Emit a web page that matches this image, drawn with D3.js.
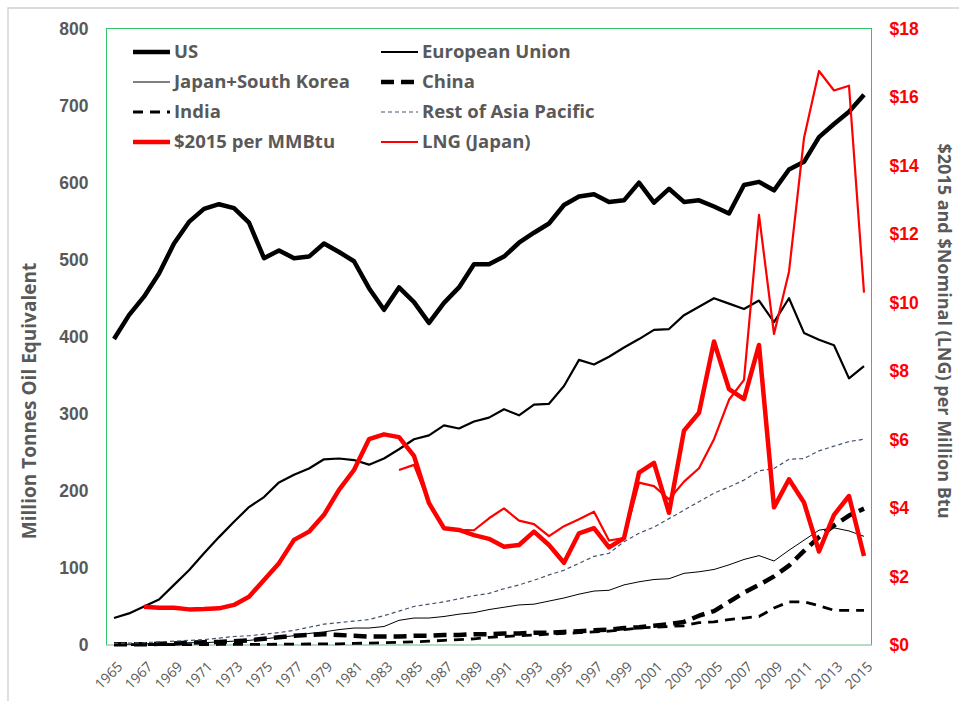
<!DOCTYPE html>
<html>
<head>
<meta charset="utf-8">
<script src="https://cdn.jsdelivr.net/npm/d3@7"></script>
<style>
  body { margin: 0; background: #fff; }
  svg { font-family: "Open Sans", "Noto Sans", sans-serif; }
</style>
</head>
<body>
<script>
// years on the x axis
var years = [1965,1966,1967,1968,1969,1970,1971,1972,1973,1974,
  1975,1976,1977,1978,1979,1980,1981,1982,1983,1984,
  1985,1986,1987,1988,1989,1990,1991,1992,1993,1994,
  1995,1996,1997,1998,1999,2000,2001,2002,2003,2004,
  2005,2006,2007,2008,2009,2010,2011,2012,2013,2014,2015];

// million tonnes oil equivalent (left axis)
var us = [397,428,452,482,521,549,566,572,567,548,
  502,512,502,504,521,510,498,463,435,464,
  445,418,444,464,494,494,504,522,535,547,
  571,582,585,575,577,600,574,592,575,577,
  569,560,597,601,590,617,627,659,676,692,714];
var eu = [35,41,50,59,78,97,119,140,160,179,
  192,211,221,229,241,242,240,234,242,254,
  267,272,285,281,290,295,306,298,312,313,
  336,370,364,374,386,397,409,410,428,439,
  450,443,436,447,419,450,405,396,389,346,362];
var japanKorea = [1,1,1.5,2,2,3,3,4,5,6,
  8,10,12,15,17,20,22,22,24,32,
  35,35,37,40,42,46,49,52,53,57,
  61,66,70,71,78,82,85,86,93,95,
  98,104,111,116,109,123,136,149,152,148,141];
var china = [1,1,1,1.5,2,3,3.5,4,5,6,
  8,10,12,13,14,13,12,11,11,11,
  12,12,13,13,14,14,15,15,16,16,
  17,18,19,20,22,23,25,27,30,38,
  44,56,68,78,89,103,122,140,155,168,177];
var india = [0.5,0.5,0.5,0.5,0.5,0.6,0.6,0.7,0.7,0.8,
  0.9,1,1.1,1.3,1.4,1.5,2,2.5,3,3.5,
  4,5,6,7,8,10,11,12,13,14,
  15,16,17,18,20,22,23,24,25,29,
  30,33,35,37,48,56,56,51,45,45,45];
var restAsia = [2,2.5,3,4,5,6,7,9,11,12,
  14,16,19,23,27,29,31,33,38,44,
  50,53,56,60,64,67,73,78,84,91,
  97,106,115,119,134,145,153,164,175,186,
  197,205,214,226,229,241,242,252,258,264,267];

// dollars per MMBtu (right axis)
var price2015 = [null,null,1.12,1.09,1.09,1.04,1.05,1.07,1.17,1.41,
  1.90,2.39,3.07,3.31,3.80,4.53,5.11,6.01,6.15,6.07,
  5.52,4.14,3.41,3.36,3.21,3.10,2.87,2.92,3.31,2.92,
  2.40,3.26,3.41,2.85,3.12,5.03,5.32,3.86,6.26,6.78,
  8.86,7.47,7.18,8.76,4.02,4.84,4.16,2.73,3.80,4.35,2.60];
var lngJapan = [null,null,null,null,null,null,null,null,null,null,
  null,null,null,null,null,null,null,null,null,5.11,
  5.26,4.14,3.41,3.36,3.35,3.70,3.99,3.63,3.53,3.18,
  3.47,3.67,3.89,3.05,3.12,4.74,4.64,4.25,4.77,5.16,
  6.01,7.16,7.74,12.56,9.08,10.90,14.80,16.76,16.19,16.33,10.29];

var leftTicks = [0,100,200,300,400,500,600,700,800];
var rightTicks = [0,2,4,6,8,10,12,14,16,18];

var w = 959, h = 701;
var plot = {left: 106.5, right: 871.5, top: 28.5, bottom: 645};

var series = [
  {name: "US", values: us, axis: "left", color: "#000", width: 4.5, dash: null},
  {name: "European Union", values: eu, axis: "left", color: "#000", width: 2.2, dash: null},
  {name: "Japan+South Korea", values: japanKorea, axis: "left", color: "#000", width: 1, dash: null},
  {name: "China", values: china, axis: "left", color: "#000", width: 4.5, dash: "13,7"},
  {name: "India", values: india, axis: "left", color: "#000", width: 2.8, dash: "10,7"},
  {name: "Rest of Asia Pacific", values: restAsia, axis: "left", color: "#44546a", width: 1.2, dash: "4,3"},
  {name: "$2015 per MMBtu", values: price2015, axis: "right", color: "#ff0000", width: 4.5, dash: null},
  {name: "LNG (Japan)", values: lngJapan, axis: "right", color: "#ff0000", width: 2.2, dash: null}
];

var svg = d3.select("body").append("svg")
  .attr("width", w)
  .attr("height", h);

// chart border, only top and left show in the crop
svg.append("path")
  .attr("d", "M8," + h + "V8H" + w)
  .attr("fill", "none")
  .attr("stroke", "#cfcfcf")
  .attr("stroke-width", 1.3);

var x = d3.scalePoint()
  .domain(years)
  .range([plot.left, plot.right])
  .padding(0.5);

var yLeft = d3.scaleLinear().domain([0, 800]).range([plot.bottom, plot.top]);
var yRight = d3.scaleLinear().domain([0, 18]).range([plot.bottom, plot.top]);

// plot frame
svg.append("rect")
  .attr("x", plot.left).attr("y", plot.top)
  .attr("width", plot.right - plot.left).attr("height", plot.bottom - plot.top)
  .attr("fill", "none")
  .attr("stroke", "#2fc466")
  .attr("stroke-width", 1);
svg.append("line")
  .attr("x1", plot.left).attr("x2", plot.right)
  .attr("y1", plot.bottom).attr("y2", plot.bottom)
  .attr("stroke", "#bcdcc8")
  .attr("stroke-width", 1.5);

// left axis
var leftAxis = svg.append("g")
  .attr("transform", "translate(" + (plot.left - 18) + ",0)")
  .call(d3.axisLeft(yLeft).tickValues(leftTicks).tickSize(0).tickPadding(0));
leftAxis.select(".domain").remove();
leftAxis.selectAll("text")
  .attr("fill", "#595959")
  .style("font-size", "17.5px")
  .style("font-weight", "700");

// right axis
var rightAxis = svg.append("g")
  .attr("transform", "translate(" + (plot.right + 18) + ",0)")
  .call(d3.axisRight(yRight).tickValues(rightTicks).tickSize(0).tickPadding(0)
    .tickFormat(function(d) { return "$" + d; }));
rightAxis.select(".domain").remove();
rightAxis.selectAll("text")
  .attr("fill", "#ff0000")
  .style("font-size", "17.5px")
  .style("font-weight", "700");

// x labels, every second year
svg.append("g")
  .selectAll("text")
  .data(years.filter(function(d, i) { return i % 2 === 0; }))
  .enter()
  .append("text")
  .attr("transform", function(d) { return "translate(" + (x(d) + 6) + "," + (plot.bottom + 19) + ") rotate(-45)"; })
  .attr("text-anchor", "end")
  .attr("dy", "0.35em")
  .attr("fill", "#595959")
  .style("font-size", "14px")
  .text(function(d) { return d; });

// axis titles
svg.append("text")
  .attr("transform", "translate(36,401) rotate(-90)")
  .attr("text-anchor", "middle")
  .attr("fill", "#595959")
  .style("font-size", "19px")
  .style("font-weight", "700")
  .text("Million Tonnes Oil Equivalent");

svg.append("text")
  .attr("transform", "translate(938,331) rotate(90)")
  .attr("text-anchor", "middle")
  .attr("fill", "#595959")
  .style("font-size", "18px")
  .style("font-weight", "700")
  .text("$2015 and $Nominal (LNG) per Million Btu");

// lines
series.forEach(function(s) {
  var y = s.axis === "left" ? yLeft : yRight;
  var line = d3.line()
    .defined(function(d) { return d !== null; })
    .x(function(d, i) { return x(years[i]); })
    .y(function(d) { return y(d); });
  svg.append("path")
    .datum(s.values)
    .attr("fill", "none")
    .attr("stroke", s.color)
    .attr("stroke-width", s.width)
    .attr("stroke-dasharray", s.dash)
    .attr("stroke-linejoin", "round")
    .attr("d", line);
});

// legend, two columns inside the plot
var legend = svg.append("g")
  .selectAll("g")
  .data(series)
  .enter()
  .append("g")
  .attr("transform", function(d, i) {
    return "translate(" + (i % 2 === 0 ? 133 : 381) + "," + (52 + Math.floor(i / 2) * 30) + ")";
  });

legend.append("line")
  .attr("x1", 0).attr("x2", 37)
  .attr("stroke", function(d) { return d.color; })
  .attr("stroke-width", function(d) { return d.width; })
  .attr("stroke-dasharray", function(d) { return d.dash; });

legend.append("text")
  .attr("x", 41)
  .attr("dy", "0.35em")
  .attr("fill", "#595959")
  .style("font-size", "18.5px")
  .style("font-weight", "700")
  .text(function(d) { return d.name; });
</script>
</body>
</html>
